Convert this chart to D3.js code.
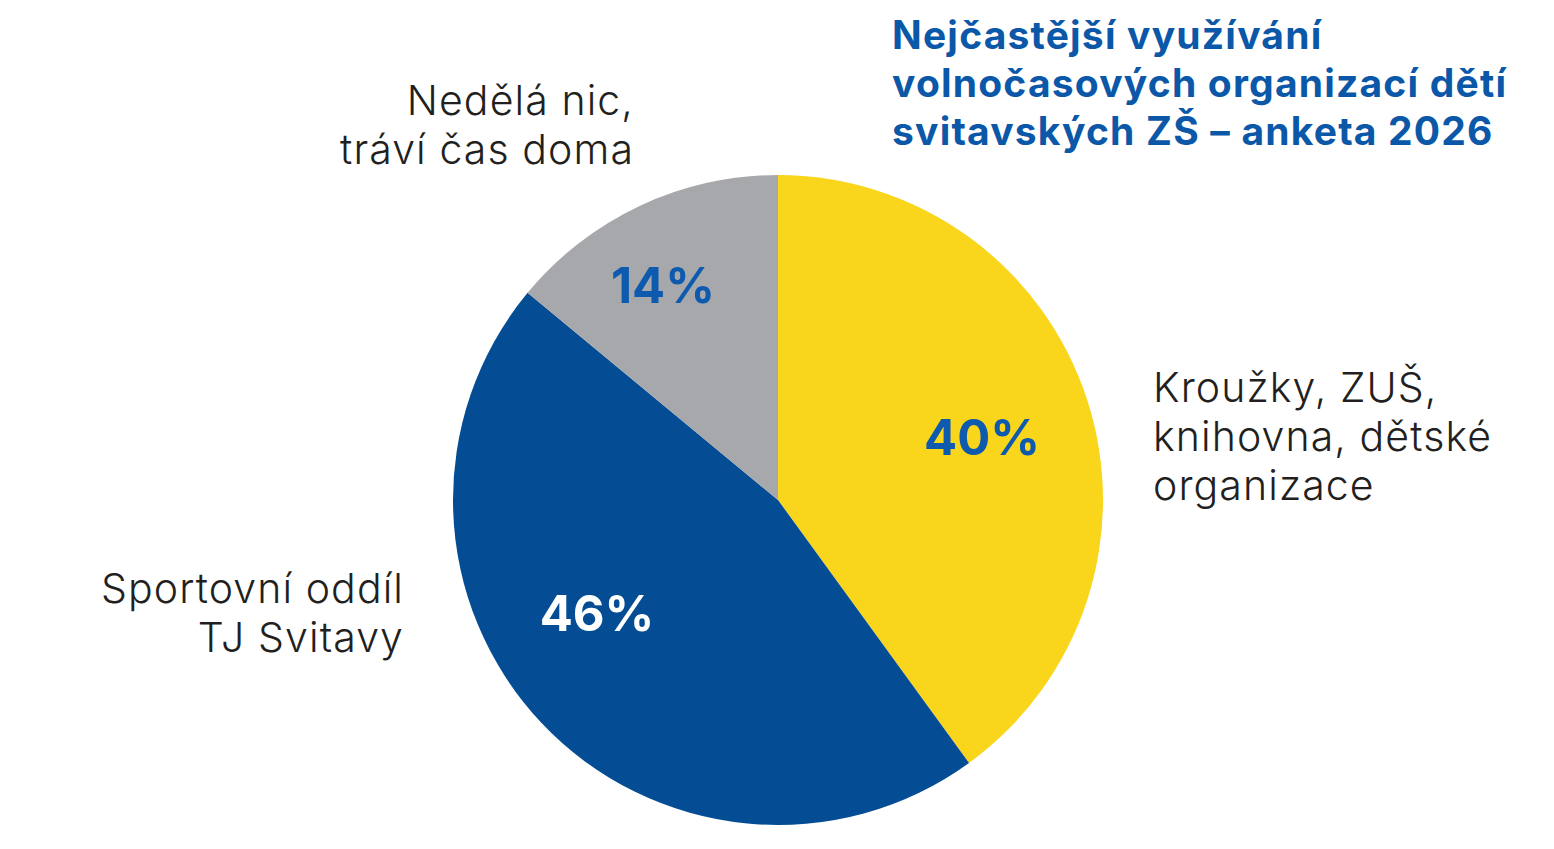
<!DOCTYPE html>
<html>
<head>
<meta charset="utf-8">
<script src="https://cdn.jsdelivr.net/npm/d3@7"></script>
<style>
  body { margin: 0; background: #fff; }
  svg { display: block; }
</style>
</head>
<body>
<svg id="chart" width="1554" height="849"></svg>
<script>
// data
const categories = ["Kroužky, ZUŠ, knihovna, dětské organizace", "Sportovní oddíl TJ Svitavy", "Nedělá nic, tráví čas doma"];
const values = [40, 46, 14];
const labelLines = [
  ["Kroužky, ZUŠ,", "knihovna, dětské", "organizace"],
  ["Sportovní oddíl", "TJ Svitavy"],
  ["Nedělá nic,", "tráví čas doma"]
];
const titleLines = ["Nejčastější využívání", "volnočasových organizací dětí", "svitavských ZŠ – anketa 2026"];

const sliceColors = ["#F9D51C", "#044C93", "#A7A8AB"];
const pctColors = ["#0D5AAE", "#ffffff", "#0D5AAE"];

const svg = d3.select("#chart");
const cx = 778, cy = 500, r = 325;

const pie = d3.pie().sort(null).value(d => d)(values);
const arc = d3.arc().innerRadius(0).outerRadius(r);

const g = svg.append("g").attr("transform", `translate(${cx},${cy})`);

g.selectAll("path.slice")
  .data(pie)
  .join("path")
  .attr("class", "slice")
  .attr("d", arc)
  .attr("fill", (d, i) => sliceColors[i]);

// percentage labels
const pctPos = [[204, -63], [-181, 113], [-115, -215]];
g.selectAll("text.pct")
  .data(pie)
  .join("text")
  .attr("class", "pct")
  .attr("x", (d, i) => pctPos[i][0])
  .attr("y", (d, i) => pctPos[i][1])
  .attr("text-anchor", "middle")
  .attr("dominant-baseline", "central")
  .attr("font-family", "Inter, sans-serif")
  .attr("font-weight", 700)
  .attr("font-size", 49)
  .attr("fill", (d, i) => pctColors[i])
  .text(d => d.data + "%");

// category labels
const catPos = [
  { x: 1153, y: 402, anchor: "start" },
  { x: 404, y: 603, anchor: "end" },
  { x: 634, y: 115, anchor: "end" }
];
labelLines.forEach((lines, i) => {
  const t = svg.append("text")
    .attr("x", catPos[i].x)
    .attr("y", catPos[i].y)
    .attr("text-anchor", catPos[i].anchor)
    .attr("font-family", "Inter, sans-serif")
    .attr("font-weight", 300)
    .attr("font-size", 41)
    .attr("letter-spacing", 1.1)
    .attr("fill", "#231F20");
  t.selectAll("tspan")
    .data(lines)
    .join("tspan")
    .attr("x", catPos[i].x)
    .attr("dy", (d, j) => j === 0 ? 0 : 49)
    .text(d => d);
});

// title
const title = svg.append("text")
  .attr("x", 892)
  .attr("y", 49)
  .attr("font-family", "Inter, sans-serif")
  .attr("font-weight", 700)
  .attr("font-size", 39)
  .attr("letter-spacing", 1.2)
  .attr("fill", "#0B57A8");
title.selectAll("tspan")
  .data(titleLines)
  .join("tspan")
  .attr("x", 892)
  .attr("dy", (d, j) => j === 0 ? 0 : 48)
  .text(d => d);
</script>
</body>
</html>
